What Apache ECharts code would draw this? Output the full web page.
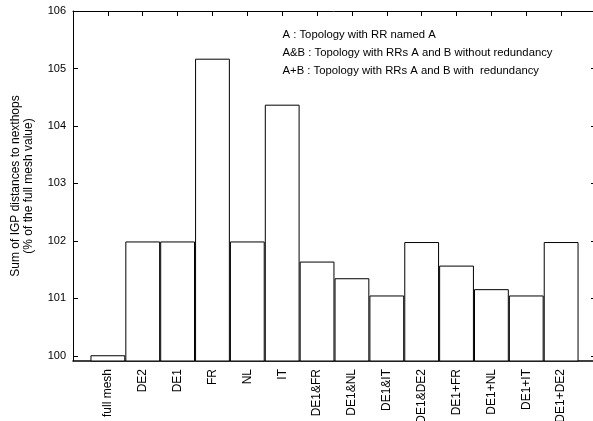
<!DOCTYPE html>
<html>
<head>
<meta charset="utf-8">
<script src="https://cdn.jsdelivr.net/npm/echarts@6/dist/echarts.min.js"></script>
<style>
html,body{margin:0;padding:0;background:#fff;}
#chart{width:593px;height:421px;}
</style>
</head>
<body>
<div id="chart"></div>
<script>
const categories = ['full mesh','DE2','DE1','FR','NL','IT','DE1&FR','DE1&NL','DE1&IT','DE1&DE2','DE1+FR','DE1+NL','DE1+IT','DE1+DE2'];
const values = [100.01, 101.99, 101.99, 105.17, 101.99, 104.37, 101.64, 101.35, 101.05, 101.98, 101.57, 101.16, 101.05, 101.98];
const yTicks = [100, 101, 102, 103, 104, 105, 106];
const legendLines = [
  'A : Topology with RR named A',
  'A&B : Topology with RRs A and B without redundancy',
  'A+B : Topology with RRs A and B with  redundancy'
];
const yTitle = ['Sum of IGP distances to nexthops', '(% of the full mesh value)'];

const positions = categories.map((c, i) => i + 1);
const FONT = "'Liberation Sans', Arial, Helvetica, sans-serif";

const chart = echarts.init(document.getElementById('chart'), null, {renderer: 'canvas'});

const xBase = {
  type: 'value', min: 0, max: positions.length + 1,
  splitLine: {show: false},
  axisLine: {show: true, onZero: false, lineStyle: {color: '#000', width: 1}},
  axisTick: {show: true, inside: true, length: 5, customValues: positions, lineStyle: {color: '#000'}}
};
const yBase = {
  type: 'value', min: 99.91, max: 106,
  splitLine: {show: false},
  axisLine: {show: true, onZero: false, lineStyle: {color: '#000', width: 1}},
  axisTick: {show: true, inside: true, length: 5, customValues: yTicks, lineStyle: {color: '#000'}}
};

chart.setOption({
  animation: false,
  backgroundColor: '#fff',
  grid: {left: 73, right: -3, top: 11, bottom: 60, containLabel: false, outerBoundsMode: 'none'},
  xAxis: [
    Object.assign({}, xBase, {
      position: 'bottom',
      axisLine: {show: true, onZero: false, lineStyle: {color: '#000', width: 1.5}},
      axisLabel: {
        show: true, rotate: 90, margin: 8, customValues: positions,
        fontFamily: FONT, fontSize: 12, color: '#000',
        formatter: v => categories[Math.round(v) - 1] || ''
      }
    }),
    Object.assign({}, xBase, {position: 'top', axisLabel: {show: false}})
  ],
  yAxis: [
    Object.assign({}, yBase, {
      position: 'left',
      axisLabel: {show: true, margin: 7, customValues: yTicks, fontFamily: FONT, fontSize: 11, color: '#000'},
      name: yTitle.join('\n'),
      nameLocation: 'middle',
      nameGap: 38,
      nameMoveOverlap: false,
      nameTextStyle: {fontFamily: FONT, fontSize: 12, color: '#000', lineHeight: 13}
    }),
    Object.assign({}, yBase, {position: 'right', axisLabel: {show: false}})
  ],
  graphic: legendLines.map((t, i) => ({
    type: 'text', left: 282.5, top: 29.5 + i * 18,
    style: {text: t, font: '11.3px ' + FONT, fill: '#000'}
  })),
  series: [{
    type: 'bar',
    xAxisIndex: 0, yAxisIndex: 0,
    barWidth: 34.8,
    data: positions.map((p, i) => [p, values[i]]),
    itemStyle: {color: '#fff', borderColor: '#000', borderWidth: 1}
  }]
});
</script>
</body>
</html>
